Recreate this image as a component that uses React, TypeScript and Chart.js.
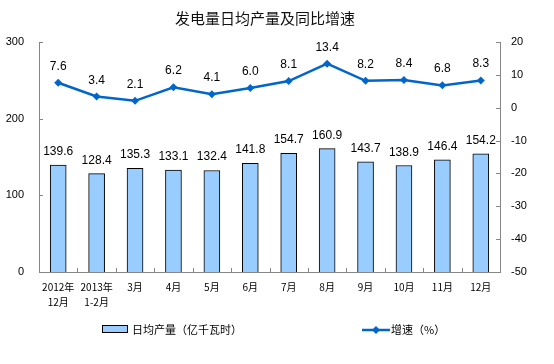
import React, { useEffect, useRef } from "react";
import { Chart, registerables } from "chart.js";

Chart.register(...registerables);

const categories: (string | string[])[] = [
  ["2012年", "12月"],
  ["2013年", "1-2月"],
  "3月", "4月", "5月", "6月", "7月", "8月", "9月", "10月", "11月", "12月",
];
const dailyOutput = [139.6, 128.4, 135.3, 133.1, 132.4, 141.8, 154.7, 160.9, 143.7, 138.9, 146.4, 154.2];
const growthRate = [7.6, 3.4, 2.1, 6.2, 4.1, 6.0, 8.1, 13.4, 8.2, 8.4, 6.8, 8.3];
const leftTicks = [0, 100, 200, 300];
const rightTicks = [-50, -40, -30, -20, -10, 0, 10, 20];
const titleText = "发电量日均产量及同比增速";
const barLegend = "日均产量（亿千瓦时）";
const lineLegend = "增速（%）";

const NUM_FONT = "'Liberation Sans', Arial, 'Noto Sans CJK SC', sans-serif";
const CJK_FONT = "'Noto Sans CJK SC', 'Liberation Sans', sans-serif";
const AXIS_COLOR = "#868686";
const BAR_FILL = "#99CCFF";
const LINE_COLOR = "#0066CC";

const customPlugin = {
  id: "custom",
  afterDatasetsDraw(chart: any) {
    const ctx = chart.ctx as CanvasRenderingContext2D;
    const area = chart.chartArea;
    const x = chart.scales.x;
    const y = chart.scales.y;
    const y1 = chart.scales.y1;
    ctx.save();
    // tick marks inside
    ctx.strokeStyle = AXIS_COLOR;
    ctx.lineWidth = 1;
    ctx.beginPath();
    leftTicks.forEach((v) => {
      const py = Math.round(y.getPixelForValue(v)) + 0.5;
      ctx.moveTo(area.left, py);
      ctx.lineTo(area.left + 4, py);
    });
    rightTicks.forEach((v) => {
      const py = Math.round(y1.getPixelForValue(v)) + 0.5;
      ctx.moveTo(area.right, py);
      ctx.lineTo(area.right - 4, py);
    });
    const n = categories.length;
    const step = (area.right - area.left) / n;
    for (let k = 1; k < n; k++) {
      const px = Math.round(area.left + k * step) + 0.5;
      ctx.moveTo(px, area.bottom);
      ctx.lineTo(px, area.bottom - 4);
    }
    ctx.stroke();

    // data labels
    ctx.fillStyle = "#000";
    ctx.font = "12px " + NUM_FONT;
    ctx.textAlign = "center";
    ctx.textBaseline = "alphabetic";
    const barMeta = chart.getDatasetMeta(0);
    barMeta.data.forEach((el: any, i: number) => {
      ctx.fillText(dailyOutput[i].toFixed(1), el.x, el.y - 10);
    });
    const lineMeta = chart.getDatasetMeta(1);
    lineMeta.data.forEach((el: any, i: number) => {
      ctx.fillText(growthRate[i].toFixed(1), el.x, el.y - 13);
    });

    // title
    ctx.font = "15px " + CJK_FONT;
    ctx.fillStyle = "#111";
    ctx.textBaseline = "middle";
    ctx.fillText(titleText, 265, 18);

    // legend
    ctx.textAlign = "left";
    ctx.font = "11px " + CJK_FONT;
    ctx.fillStyle = BAR_FILL;
    ctx.fillRect(102, 325, 26, 7);
    ctx.strokeStyle = "#000";
    ctx.lineWidth = 1;
    ctx.strokeRect(102.5, 325.5, 25, 7);
    ctx.fillStyle = "#000";
    ctx.fillText(barLegend, 132, 329.5);

    ctx.strokeStyle = LINE_COLOR;
    ctx.lineWidth = 2.5;
    ctx.beginPath();
    ctx.moveTo(362, 330);
    ctx.lineTo(390, 330);
    ctx.stroke();
    ctx.fillStyle = LINE_COLOR;
    ctx.beginPath();
    ctx.moveTo(376, 326);
    ctx.lineTo(380, 330);
    ctx.lineTo(376, 334);
    ctx.lineTo(372, 330);
    ctx.closePath();
    ctx.fill();
    ctx.fillStyle = "#000";
    ctx.fillText(lineLegend, 391, 329.5);
    ctx.restore();
  },
};

export default function App() {
  const ref = useRef<HTMLCanvasElement>(null);
  useEffect(() => {
    document.body.style.margin = "0";
    const canvas = ref.current!;
    const chart = new Chart(canvas, {
      type: "bar",
      data: {
        labels: categories,
        datasets: [
          {
            type: "bar",
            data: dailyOutput,
            yAxisID: "y",
            backgroundColor: BAR_FILL,
            borderColor: "#000",
            borderWidth: 1,
            barThickness: 16,
            order: 2,
          },
          {
            type: "line",
            data: growthRate,
            yAxisID: "y1",
            borderColor: LINE_COLOR,
            backgroundColor: LINE_COLOR,
            borderWidth: 2.5,
            pointStyle: "rectRot",
            pointRadius: 4,
            pointBorderWidth: 0,
            pointBackgroundColor: LINE_COLOR,
            tension: 0,
            order: 1,
          } as any,
        ],
      },
      options: {
        animation: false,
        responsive: false,
        devicePixelRatio: 1,
        layout: { padding: { top: 42, left: 0, right: 0, bottom: 0 } },
        plugins: {
          legend: { display: false },
          title: { display: false },
          tooltip: { enabled: false },
        },
        scales: {
          x: {
            offset: true,
            grid: { display: false, drawTicks: false },
            border: { display: true, color: AXIS_COLOR, width: 1 },
            ticks: {
              color: "#000",
              font: { size: 10, family: CJK_FONT, lineHeight: 1.45 },
              padding: 8,
              maxRotation: 0,
              autoSkip: false,
            },
            afterFit: (s: any) => {
              s.height = 92;
            },
          },
          y: {
            position: "left",
            min: 0,
            max: 300,
            grid: { display: false, drawTicks: false },
            border: { display: true, color: AXIS_COLOR, width: 1 },
            ticks: {
              stepSize: 100,
              color: "#000",
              font: { size: 11, family: NUM_FONT },
              padding: 15,
            },
            afterFit: (s: any) => {
              s.width = 39;
            },
          },
          y1: {
            position: "right",
            min: -50,
            max: 20,
            grid: { display: false, drawTicks: false },
            border: { display: true, color: AXIS_COLOR, width: 1 },
            ticks: {
              stepSize: 10,
              color: "#000",
              font: { size: 11, family: NUM_FONT },
              padding: 11,
            },
            afterFit: (s: any) => {
              s.width = 54;
            },
          },
        },
      },
      plugins: [customPlugin],
    });
    return () => chart.destroy();
  }, []);
  return (
    <div style={{ position: "absolute", left: 0, top: 0, width: 554, height: 364, background: "#fff" }}>
      <canvas ref={ref} width={554} height={364} style={{ display: "block" }} />
    </div>
  );
}
